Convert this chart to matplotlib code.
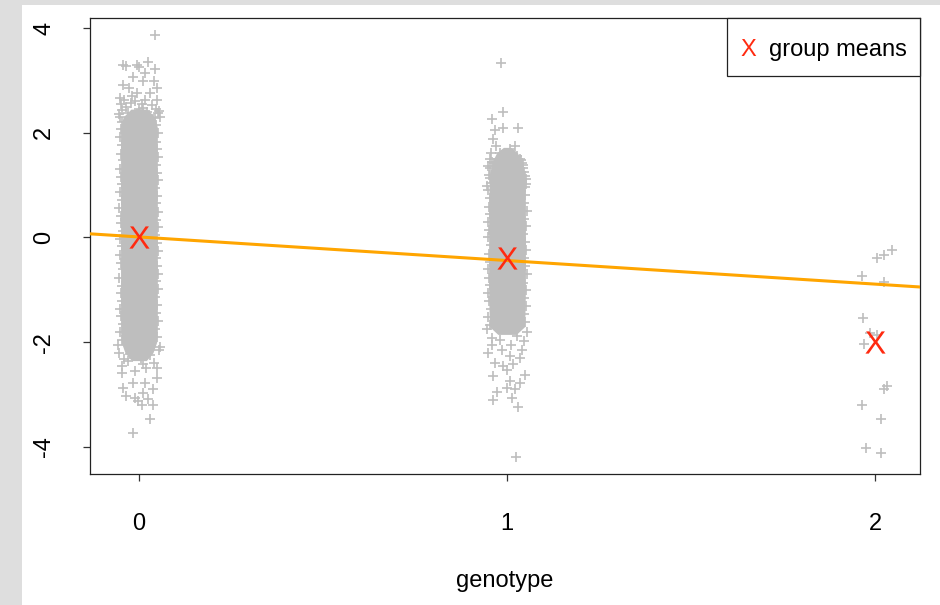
import matplotlib
matplotlib.use("Agg")
import matplotlib.pyplot as plt
from matplotlib.patches import Rectangle

matplotlib.rc("font", family=["Liberation Sans", "DejaVu Sans"], size=17)
matplotlib.rc("mathtext", fontset="custom", sf="Liberation Sans", rm="Liberation Sans")

# Group means and fitted line
group_x     = [0, 1, 2]
group_means = [0.00, -0.40, -2.00]
fit_intercept = 0.01
fit_slope     = -0.45

# Dense core of each column: y levels and left/right edges (jittered genotype offset)
core0_y     = [-2.35, -2.20, -2.00, -1.80, -1.50, 0.00, 1.50, 2.10, 2.30, 2.45]
core0_left  = [-0.020, -0.038, -0.048, -0.050, -0.050, -0.050, -0.050, -0.050, -0.043, -0.022]
core0_right = [ 0.020,  0.038,  0.048,  0.050,  0.050,  0.050,  0.050,  0.050,  0.043,  0.022]

core1_y     = [-1.85, -1.70, -1.00, 0.00, 0.60, 1.20, 1.45, 1.62, 1.72]
core1_left  = [-0.025, -0.048, -0.050, -0.050, -0.050, -0.048, -0.040, -0.028, -0.010]
core1_right = [ 0.025,  0.048,  0.050,  0.050,  0.050,  0.048,  0.040,  0.028,  0.010]

# Points along the ragged sides of the cores
edge0_left_x  = [-0.046, -0.051, -0.043, -0.049, -0.052, -0.045, -0.050, -0.047, -0.053, -0.044,
                 -0.049, -0.051, -0.046, -0.052, -0.043, -0.050, -0.048, -0.053, -0.045, -0.051,
                 -0.047, -0.049, -0.052, -0.044, -0.050, -0.046, -0.052, -0.048, -0.045]
edge0_left_y  = [-1.95, -1.80, -1.66, -1.50, -1.37, -1.21, -1.06, -0.92, -0.77, -0.61,
                 -0.48, -0.33, -0.17, -0.03, 0.12, 0.28, 0.41, 0.57, 0.72, 0.86,
                 1.02, 1.16, 1.31, 1.47, 1.60, 1.76, 1.91, 2.07, 2.21]
edge0_right_x = [0.049, 0.044, 0.052, 0.047, 0.050, 0.043, 0.053, 0.046, 0.051, 0.048,
                 0.045, 0.052, 0.049, 0.044, 0.051, 0.047, 0.053, 0.046, 0.050, 0.043,
                 0.052, 0.048, 0.045, 0.051, 0.049, 0.046, 0.052, 0.047, 0.044]
edge0_right_y = [-1.90, -1.74, -1.59, -1.45, -1.29, -1.13, -0.99, -0.84, -0.70, -0.54,
                 -0.40, -0.25, -0.10, 0.05, 0.20, 0.34, 0.49, 0.65, 0.79, 0.94,
                 1.09, 1.24, 1.38, 1.53, 1.68, 1.83, 1.99, 2.14, 2.28]

edge1_left_x  = [-0.047, -0.051, -0.044, -0.050, -0.052, -0.045, -0.049, -0.053, -0.046, -0.050,
                 -0.043, -0.051, -0.048, -0.052, -0.045, -0.050, -0.047, -0.053, -0.044, -0.049,
                 -0.046, -0.040]
edge1_left_y  = [-1.68, -1.52, -1.37, -1.22, -1.06, -0.91, -0.77, -0.61, -0.46, -0.31,
                 -0.15, 0.00, 0.14, 0.30, 0.45, 0.59, 0.75, 0.90, 1.04, 1.19,
                 1.33, 1.45]
edge1_right_x = [0.050, 0.045, 0.052, 0.047, 0.051, 0.044, 0.053, 0.048, 0.046, 0.052,
                 0.049, 0.044, 0.051, 0.047, 0.053, 0.045, 0.050, 0.048, 0.052, 0.046,
                 0.043, 0.038]
edge1_right_y = [-1.62, -1.47, -1.31, -1.16, -1.01, -0.86, -0.70, -0.55, -0.40, -0.24,
                 -0.09, 0.06, 0.21, 0.36, 0.51, 0.66, 0.81, 0.96, 1.11, 1.25,
                 1.38, 1.48]

# Individual points outside the dense cores (jittered genotype offset, phenotype)
g0_x = [0.043, -0.043, -0.035, -0.006, 0.000, 0.025, 0.043, -0.017, 0.016, -0.044,
        0.041, 0.010, 0.048, -0.026, -0.005, 0.030, 0.050, -0.052, 0.016, -0.022,
        0.055, -0.047, -0.055, -0.035, 0.000, 0.035, 0.058, -0.012, 0.022, -0.048,
        -0.030, 0.008, 0.045, -0.018, 0.028, -0.040, 0.012, 0.052, -0.052, -0.005,
        -0.047, 0.048, -0.015, 0.016, -0.043, 0.039, 0.012, -0.035, -0.011, 0.025,
        0.007, 0.039, -0.002, 0.030, -0.017, -0.055, -0.030, 0.005, 0.040, 0.055,
        -0.045, 0.020, -0.010, 0.050, -0.058, 0.058, -0.025, 0.030, -0.040, 0.012]
g0_y = [3.86, 3.30, 3.27, 3.29, 3.25, 3.35, 3.21, 3.06, 3.14, 2.92,
        2.98, 2.98, 2.86, 2.86, 2.76, 2.76, 2.63, 2.67, 2.63, 2.57,
        2.41, 2.44, 2.35, 2.50, 2.45, 2.52, 2.30, 2.60, 2.40, 2.55,
        2.38, 2.55, 2.45, 2.70, 2.33, 2.62, 2.48, 2.38, 2.30, 2.35,
        -2.58, -2.68, -2.77, -2.77, -2.87, -2.90, -2.96, -3.02, -3.06, -3.09,
        -3.19, -3.19, -3.12, -3.46, -3.74, -2.20, -2.35, -2.30, -2.40, -2.15,
        -2.45, -2.50, -2.55, -2.50, -2.05, -2.10, -2.22, -2.25, -2.32, -2.42]

g1_x = [-0.017, -0.010, -0.042, -0.033, -0.010, 0.029, -0.037, -0.030, 0.022, -0.044,
        0.008, -0.019, 0.026, 0.035, -0.051, 0.044, -0.035, 0.000, -0.047, 0.049,
        0.008, -0.014, 0.030, -0.025, 0.052, -0.055, 0.020, -0.005, 0.040, -0.045,
        -0.042, 0.026, -0.051, -0.014, 0.040, 0.008, -0.033, 0.035, -0.010, 0.017,
        -0.037, 0.000, 0.049, 0.008, 0.035, -0.028, 0.000, 0.022, 0.013, -0.039,
        0.031, 0.024, -0.055, 0.055, -0.020, 0.045, -0.040, 0.010]
g1_y = [3.33, 2.39, 2.27, 2.05, 2.09, 2.09, 1.88, 1.74, 1.74, 1.62,
        1.68, 1.62, 1.55, 1.49, 1.36, 1.33, 1.43, 1.46, 1.14, 1.17,
        1.23, 1.04, 1.30, 1.25, 1.02, 0.98, 1.10, 1.35, 1.42, 1.50,
        -1.91, -1.88, -2.20, -2.14, -2.14, -2.27, -2.39, -2.30, -2.46, -2.42,
        -2.65, -2.53, -2.63, -2.74, -2.77, -2.95, -2.87, -2.90, -3.06, -3.10,
        -3.23, -4.20, -1.75, -1.80, -1.95, -1.98, -2.05, -2.05]

g2_x = [2.045, 2.024, 2.005, 1.964, 2.024, 1.967, 1.985, 2.005, 1.970, 2.032,
        2.025, 1.964, 2.015, 1.976, 2.015]
g2_y = [-0.23, -0.34, -0.40, -0.73, -0.85, -1.53, -1.83, -1.87, -2.03, -2.84,
        -2.89, -3.20, -3.46, -4.01, -4.12]

POINT_COLOR = "#bebebe"
MEAN_COLOR  = "#ff2a10"
LINE_COLOR  = "#ffa500"
X_MARK      = r"$\mathsf{X}$"

fig = plt.figure(figsize=(9.4, 6.05), dpi=100)
fig.patch.set_facecolor("#dedede")
fig.patches.append(Rectangle((22/940, 0), 1 - 22/940, 600/605, transform=fig.transFigure,
                             facecolor="white", edgecolor="none", zorder=-10))

ax = fig.add_axes([90/940, 131/605, 830/940, 456/605])
ax.set_facecolor("none")

ax.fill_betweenx(core0_y, core0_left, core0_right, color=POINT_COLOR, lw=0, zorder=1)
ax.fill_betweenx(core1_y, [1 + v for v in core1_left], [1 + v for v in core1_right],
                 color=POINT_COLOR, lw=0, zorder=1)

pts = dict(marker="+", s=45, linewidths=1.2, color=POINT_COLOR, zorder=2)
ax.scatter(edge0_left_x + edge0_right_x, edge0_left_y + edge0_right_y, **pts)
ax.scatter([1 + v for v in edge1_left_x + edge1_right_x], edge1_left_y + edge1_right_y, **pts)
ax.scatter(g0_x, g0_y, **pts)
ax.scatter([1 + v for v in g1_x], g1_y, **pts)
ax.scatter(g2_x, g2_y, **pts)

ax.axline((0, fit_intercept), slope=fit_slope, color=LINE_COLOR, lw=2.2, zorder=3)

ax.plot(group_x, group_means, linestyle="none", marker=X_MARK, markersize=16,
        markeredgewidth=0, color=MEAN_COLOR, zorder=4)

ax.set_xlim(-0.133, 2.122)
ax.set_ylim(-4.515, 4.19)
ax.set_xticks([0, 1, 2])
ax.set_yticks([-4, -2, 0, 2, 4])
ax.set_xticklabels(["0", "1", "2"])
ax.set_yticklabels(["-4", "-2", "0", "2", "4"], rotation=90, va="center")
ax.tick_params(direction="out", length=5, width=0.9, color="#333333", labelsize=17)
ax.tick_params(axis="x", pad=23)
ax.tick_params(axis="y", pad=20)
for s in ax.spines.values():
    s.set_linewidth(0.9)
    s.set_color("#222222")

ax.set_xlabel("genotype", labelpad=25, fontsize=17)

# legend box drawn by hand, R style
lx0 = (727 - 90) / 830
ly0 = (474 - 76) / 456
ax.add_patch(Rectangle((lx0, ly0), 1 - lx0, 1 - ly0, transform=ax.transAxes,
                       facecolor="white", edgecolor="#222222", lw=0.9, zorder=5, clip_on=False))
base_y = (474 - 56) / 456
ax.text((748 - 90) / 830, base_y, "X", transform=ax.transAxes, ha="center", va="baseline",
        fontsize=17, color=MEAN_COLOR, zorder=6)
ax.text((769 - 90) / 830, base_y, "group means", transform=ax.transAxes,
        ha="left", va="baseline", fontsize=17, zorder=6)

plt.savefig("out.png", dpi=100)
